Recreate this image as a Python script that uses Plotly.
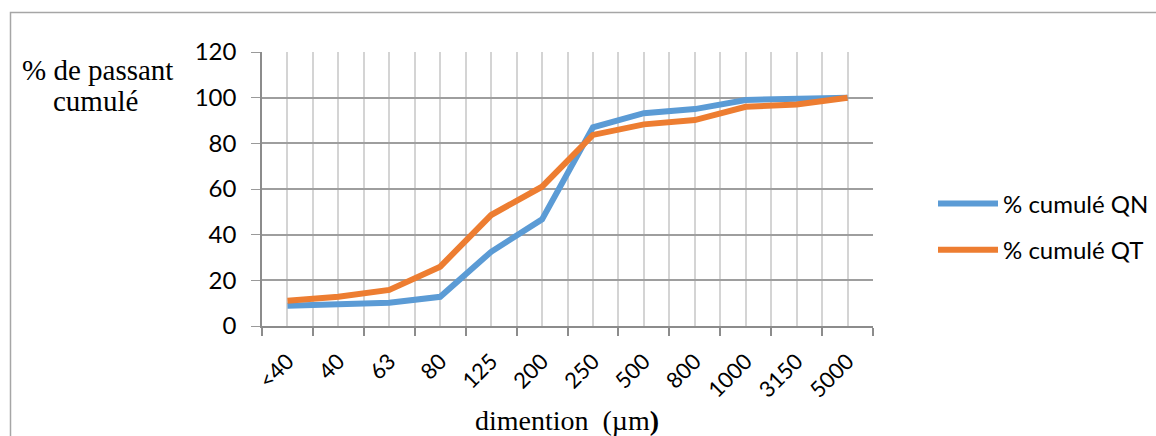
import plotly.graph_objects as go

categories = ["<40", "40", "63", "80", "125", "200", "250", "500", "800", "1000", "3150", "5000"]
qn_values = [8.9, 9.6, 10.2, 12.8, 32.5, 46.7, 87.0, 93.2, 95.0, 99.0, 99.4, 100.0]
qt_values = [11.1, 12.8, 15.8, 26.0, 48.6, 61.0, 83.7, 88.3, 90.2, 96.0, 97.0, 100.0]
series_names = ["% cumulé QN", "% cumulé QT"]
y_ticks = [0, 20, 40, 60, 80, 100, 120]

x_idx = list(range(len(categories)))
boundaries = [i - 0.5 for i in range(len(categories) + 1)]

L, R, T, B = 262, 283, 52, 110
W, H = 1156, 436
pw, ph = W - L - R, H - T - B

def px_to_paper_x(px):
    return (px - L) / pw

def px_to_paper_y(py):
    return (H - B - py) / ph

fig = go.Figure()
fig.add_trace(go.Scatter(x=x_idx, y=qn_values, mode="lines", name=series_names[0],
                         line=dict(color="#5B9BD5", width=6), legendgroup="a"))
fig.add_trace(go.Scatter(x=x_idx, y=qt_values, mode="lines", name=series_names[1],
                         line=dict(color="#ED7D31", width=6), legendgroup="b"))

sans = "Lato, Carlito, sans-serif"
serif = "Liberation Serif, Times New Roman, serif"

fig.update_layout(
    width=W, height=H,
    margin=dict(l=L, r=R, t=T, b=B, pad=0, autoexpand=False),
    paper_bgcolor="white", plot_bgcolor="white",
    showlegend=True,
    legend=dict(x=px_to_paper_x(933), xanchor="left", y=px_to_paper_y(227), yanchor="middle",
                font=dict(family=sans, size=24, color="#000"),
                traceorder="grouped", tracegroupgap=12, itemwidth=60,
                bgcolor="rgba(0,0,0,0)"),
    xaxis=dict(
        range=[-0.5, len(categories) - 0.5],
        tickmode="array", tickvals=x_idx, ticktext=categories,
        tickangle=-45, tickfont=dict(family=sans, size=22, color="#000"), ticks="",
        ticklabelstandoff=12,
        showgrid=True, gridcolor="#d4d4d4", gridwidth=1.5,
        showline=True, linecolor="#8c8c8c", linewidth=1.5,
        zeroline=False,
        minor=dict(tickmode="array", tickvals=boundaries, ticks="outside", ticklen=8,
                   tickcolor="#8c8c8c", tickwidth=1.5, showgrid=True,
                   gridcolor="#d4d4d4", gridwidth=1.5),
        fixedrange=True,
    ),
    yaxis=dict(
        range=[0, 120], tickmode="array", tickvals=y_ticks,
        tickfont=dict(family=sans, size=24, color="#000"),
        ticks="outside", ticklen=9, tickcolor="#9a9a9a", ticklabelstandoff=10,
        showgrid=True, gridcolor="#9e9e9e", gridwidth=1.5,
        showline=True, linecolor="#8c8c8c", linewidth=1.5,
        zeroline=False, fixedrange=True,
    ),
)

# Y axis title (horizontal, two lines)
fig.add_annotation(text="% de passant", xref="paper", yref="paper",
                   x=px_to_paper_x(20), y=px_to_paper_y(70), xanchor="left", yanchor="middle",
                   showarrow=False, font=dict(family=serif, size=29, color="#000"))
fig.add_annotation(text="cumulé", xref="paper", yref="paper",
                   x=px_to_paper_x(51), y=px_to_paper_y(101), xanchor="left", yanchor="middle",
                   showarrow=False, font=dict(family=serif, size=29, color="#000"))
# X axis title
fig.add_annotation(text="dimention  (µm<b>)</b>", xref="paper", yref="paper",
                   x=px_to_paper_x(567), y=px_to_paper_y(420), xanchor="center", yanchor="middle",
                   showarrow=False, font=dict(family=serif, size=28, color="#000"))

# Chart outer border (left and top edges)
x0 = px_to_paper_x(10.5)
y0 = px_to_paper_y(12.5)
fig.add_shape(type="path",
              path=f"M {x0} {px_to_paper_y(440)} L {x0} {y0} L {px_to_paper_x(1160)} {y0}",
              xref="paper", yref="paper", line=dict(color="#a6a6a6", width=1.5))

fig.write_html("out.html")
